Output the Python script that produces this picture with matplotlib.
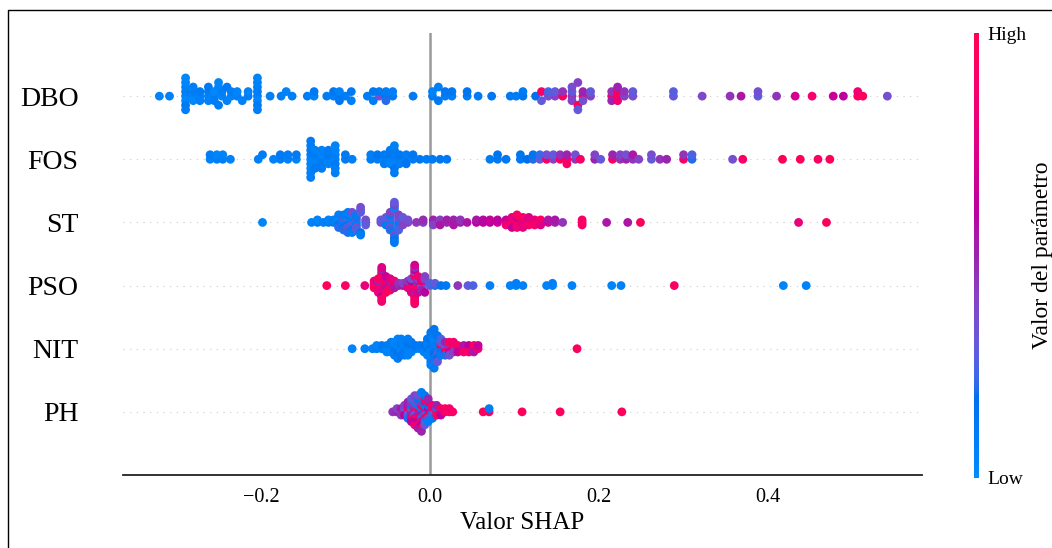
import numpy as np
import matplotlib
matplotlib.use("Agg")
import matplotlib.pyplot as plt
from matplotlib.colors import LinearSegmentedColormap
from matplotlib.cm import ScalarMappable
from matplotlib.lines import Line2D

plt.rcParams["font.family"] = ["Liberation Serif", "DejaVu Serif"]

features = ["DBO", "FOS", "ST", "PSO", "NIT", "PH"]

# every entry is one pile of dots: its SHAP value and the (0-1 scaled)
# feature values of the dots stacked there
dbo_x = [-0.320, -0.308, -0.289, -0.280, -0.272, -0.262, -0.255, -0.250, -0.246, -0.240,
         -0.235, -0.228, -0.222, -0.215, -0.204, -0.189, -0.176, -0.170, -0.163, -0.145,
         -0.137, -0.122, -0.114, -0.107, -0.100, -0.093, -0.074, -0.067, -0.060, -0.052,
         -0.044, -0.020, 0.003, 0.010, 0.018, 0.026, 0.044, 0.057, 0.073, 0.095,
         0.102, 0.110, 0.125, 0.132, 0.140, 0.148, 0.157, 0.168, 0.175, 0.181,
         0.190, 0.215, 0.222, 0.230, 0.240, 0.288, 0.322, 0.355, 0.368, 0.388,
         0.410, 0.432, 0.452, 0.477, 0.489, 0.506, 0.512, 0.541]
dbo_v = [[0.05], [0.08], [0.04, 0.1, 0.02, 0.07, 0.12, 0.05, 0.09, 0.03], [0.06, 0.1, 0.03, 0.08],
         [0.05, 0.11, 0.07], [0.04, 0.09, 0.06, 0.12], [0.08, 0.03, 0.1], [0.06, 0.1, 0.04],
         [0.05, 0.09], [0.07, 0.12],
         [0.06, 0.1], [0.08, 0.05], [0.07], [0.09, 0.06], [0.05, 0.1, 0.03, 0.08, 0.12, 0.06, 0.09, 0.04],
         [0.08], [0.1], [0.06], [0.09], [0.1],
         [0.07, 0.12], [0.1], [0.08, 0.13], [0.11, 0.06, 0.14], [0.1],
         [0.12, 0.08], [0.1], [0.13, 0.09], [0.35, 0.12], [0.15, 0.1, 0.2],
         [0.12, 0.08], [0.12], [0.1, 0.06], [0.12, 0.08], [0.1, 0.14],
         [0.09, 0.13], [0.1, 0.15], [0.12], [0.14], [0.12],
         [0.1], [0.15, 0.12], [0.18], [0.9, 0.3], [0.35, 0.25],
         [0.4, 0.3], [0.92, 0.45], [0.45, 0.3, 0.4, 0.35], [0.95, 0.4, 0.3], [0.9, 0.5, 0.35],
         [0.4, 0.3], [0.92, 0.45, 0.5], [0.95, 0.9, 0.85, 0.5], [0.4, 0.45], [0.35, 0.3],
         [0.3, 0.28], [0.38], [0.45], [0.55], [0.3, 0.35],
         [0.45], [0.7], [0.88], [0.65], [0.6], [0.92, 0.85], [0.95], [0.35]]

fos_x = [-0.260, -0.252, -0.245, -0.236, -0.203, -0.198, -0.185, -0.177, -0.168, -0.158,
         -0.141, -0.136, -0.128, -0.120, -0.112, -0.100, -0.092, -0.070, -0.062, -0.054,
         -0.047, -0.042, -0.036, -0.028, -0.020, -0.012, -0.004, 0.003, 0.012, 0.020,
         0.071, 0.080, 0.090, 0.107, 0.115, 0.122, 0.130, 0.138, 0.146, 0.154,
         0.162, 0.172, 0.178, 0.195, 0.202, 0.216, 0.225, 0.232, 0.240, 0.247,
         0.262, 0.272, 0.280, 0.300, 0.310, 0.358, 0.370, 0.417, 0.438, 0.459, 0.473]
fos_v = [[0.05, 0.1], [0.08, 0.04], [0.1, 0.06], [0.07], [0.08], [0.1], [0.06], [0.09, 0.12],
         [0.07, 0.1], [0.05, 0.11],
         [0.04, 0.1, 0.07, 0.12, 0.03, 0.09, 0.06, 0.11, 0.08], [0.06, 0.1, 0.04, 0.08, 0.12],
         [0.09, 0.05, 0.11, 0.07, 0.1], [0.08, 0.12, 0.06, 0.1], [0.05, 0.09, 0.12, 0.07, 0.1, 0.04, 0.08],
         [0.1, 0.13], [0.09], [0.11, 0.08], [0.1, 0.14], [0.07, 0.12, 0.1],
         [0.09, 0.13, 0.06, 0.11], [0.08, 0.12, 0.05, 0.1, 0.14, 0.07, 0.11], [0.1, 0.13, 0.08],
         [0.12, 0.09, 0.14], [0.1, 0.13], [0.12], [0.1], [0.11], [0.13], [0.12],
         [0.1], [0.12, 0.15], [0.14], [0.12, 0.15], [0.18], [0.2, 0.15], [0.3, 0.22], [0.9, 0.35],
         [0.4, 0.3], [0.92, 0.45],
         [0.95, 0.5, 0.9], [0.45, 0.35], [0.9], [0.5, 0.4], [0.3], [0.92, 0.5], [0.45, 0.4],
         [0.5, 0.35], [0.45, 0.55], [0.4],
         [0.3, 0.35], [0.45], [0.5], [0.9, 0.45], [0.2, 0.25], [0.35], [0.92], [0.95], [0.95],
         [0.92], [0.95]]

st_x = [-0.198, -0.140, -0.133, -0.126, -0.120, -0.114, -0.108, -0.102, -0.097, -0.092,
        -0.087, -0.082, -0.076, -0.058, -0.052, -0.047, -0.042, -0.037, -0.032, -0.026,
        -0.016, -0.008, 0.004, 0.012, 0.020, 0.028, 0.036, 0.044, 0.055, 0.063,
        0.071, 0.080, 0.090, 0.097, 0.103, 0.110, 0.117, 0.124, 0.131, 0.140,
        0.148, 0.157, 0.180, 0.209, 0.234, 0.249, 0.436, 0.469]
st_v = [[0.05], [0.06], [0.1, 0.05], [0.08], [0.1, 0.06], [0.12, 0.08], [0.15, 0.1, 0.2, 0.08],
        [0.12, 0.25, 0.08, 0.3, 0.15, 0.1, 0.2], [0.1, 0.3, 0.15, 0.05, 0.25, 0.12, 0.35, 0.08, 0.2],
        [0.2, 0.08, 0.3, 0.12, 0.25, 0.05, 0.15, 0.35, 0.1],
        [0.12, 0.3, 0.08, 0.2, 0.35, 0.1, 0.25], [0.3, 0.15, 0.25, 0.1, 0.35], [0.25, 0.35, 0.3],
        [0.35, 0.3], [0.2, 0.35, 0.1, 0.3], [0.15, 0.3, 0.08, 0.25, 0.35, 0.12, 0.2, 0.4],
        [0.1, 0.25, 0.35, 0.05, 0.2, 0.4, 0.15, 0.3, 0.12], [0.2, 0.35, 0.12, 0.3, 0.1, 0.4, 0.25],
        [0.35, 0.2, 0.4, 0.3], [0.4, 0.35],
        [0.45], [0.42, 0.48], [0.45, 0.5, 0.4], [0.5, 0.42, 0.55], [0.48, 0.52], [0.45, 0.5, 0.55],
        [0.5, 0.45], [0.55], [0.6, 0.55], [0.62, 0.58],
        [0.6, 0.65], [0.68, 0.62], [0.75, 0.65, 0.85], [0.9, 0.7, 0.95, 0.8, 0.65],
        [0.95, 0.75, 0.9, 0.65, 0.85, 0.92], [0.85, 0.95, 0.7, 0.9, 0.8], [0.92, 0.7, 0.88, 0.75],
        [0.95, 0.8, 0.9], [0.85, 0.92, 0.75], [0.7, 0.55],
        [0.5, 0.55], [0.45], [0.95, 0.9, 0.92], [0.55], [0.55], [0.95], [0.8], [0.95]]

pso_x = [-0.122, -0.100, -0.077, -0.066, -0.061, -0.057, -0.052, -0.047, -0.042, -0.037,
         -0.032, -0.026, -0.022, -0.018, -0.014, -0.010, -0.006, 0.000, 0.006, 0.013,
         0.019, 0.033, 0.045, 0.051, 0.071, 0.095, 0.102, 0.110, 0.138, 0.145,
         0.168, 0.215, 0.226, 0.289, 0.418, 0.445]
pso_v = [[0.95], [0.92], [0.8], [0.9, 0.85, 0.95, 0.8], [0.95, 0.75, 0.9, 0.5, 0.85, 0.92, 0.8],
         [0.9, 0.8, 0.95, 0.6, 0.85, 0.92, 0.5, 0.88, 0.75], [0.85, 0.95, 0.7, 0.9, 0.55, 0.8, 0.92, 0.65],
         [0.9, 0.6, 0.85, 0.5, 0.95, 0.75], [0.7, 0.9, 0.55, 0.85], [0.5, 0.45],
         [0.55, 0.4], [0.9, 0.5, 0.8, 0.45], [0.85, 0.4, 0.95, 0.6, 0.9, 0.35, 0.75],
         [0.9, 0.5, 0.85, 0.95, 0.4, 0.8, 0.6, 0.92, 0.45, 0.88, 0.7],
         [0.8, 0.35, 0.9, 0.55, 0.95, 0.4, 0.7, 0.85], [0.45, 0.9, 0.3, 0.8, 0.5], [0.35, 0.6, 0.4],
         [0.3, 0.25], [0.2, 0.3], [0.15],
         [0.12], [0.45], [0.3], [0.25], [0.08], [0.06], [0.05, 0.08], [0.07], [0.06], [0.05, 0.08],
         [0.06], [0.05], [0.07], [0.92], [0.05], [0.06]]

nit_x = [-0.092, -0.077, -0.068, -0.063, -0.057, -0.051, -0.046, -0.042, -0.038, -0.034,
         -0.030, -0.026, -0.022, -0.017, -0.012, -0.007, -0.003, 0.001, 0.005, 0.009,
         0.013, 0.018, 0.023, 0.028, 0.033, 0.040, 0.046, 0.052, 0.057, 0.174]
nit_v = [[0.05], [0.08], [0.06], [0.1, 0.05], [0.08, 0.12], [0.06, 0.1, 0.04], [0.08, 0.12, 0.05, 0.1],
         [0.06, 0.1, 0.14, 0.04, 0.09], [0.1, 0.05, 0.12, 0.08, 0.15, 0.06, 0.11],
         [0.07, 0.12, 0.04, 0.1, 0.14, 0.08],
         [0.1, 0.06, 0.13, 0.08, 0.12], [0.05, 0.11, 0.08, 0.14, 0.06, 0.1], [0.09, 0.13, 0.07, 0.11],
         [0.1, 0.14], [0.08, 0.12], [0.1, 0.15, 0.07], [0.12, 0.08, 0.15, 0.1, 0.06, 0.13],
         [0.1, 0.14, 0.06, 0.12, 0.08, 0.16, 0.05, 0.11, 0.09, 0.13, 0.07],
         [0.12, 0.08, 0.15, 0.1, 0.18, 0.06, 0.13, 0.09, 0.2, 0.11, 0.07, 0.14, 0.1],
         [0.15, 0.1, 0.2, 0.12, 0.25, 0.08, 0.18, 0.14, 0.3],
         [0.2, 0.9, 0.15, 0.35, 0.1, 0.25], [0.85, 0.3, 0.95, 0.5, 0.2], [0.9, 0.45, 0.7, 0.95, 0.35],
         [0.6, 0.92, 0.4, 0.85], [0.5, 0.9, 0.65], [0.75, 0.55, 0.9], [0.9, 0.6, 0.85],
         [0.7, 0.95, 0.55], [0.85, 0.65], [0.95]]

ph_x = [-0.044, -0.039, -0.034, -0.030, -0.026, -0.022, -0.018, -0.014, -0.010, -0.006,
        -0.002, 0.003, 0.008, 0.013, 0.018, 0.023, 0.027, 0.063, 0.070, 0.109, 0.154, 0.227]
ph_v = [[0.45], [0.5, 0.4], [0.35, 0.55, 0.45], [0.5, 0.3, 0.6, 0.4], [0.4, 0.85, 0.3, 0.55, 0.2, 0.5],
        [0.9, 0.35, 0.5, 0.15, 0.8, 0.45, 0.6, 0.3], [0.5, 0.9, 0.25, 0.45, 0.95, 0.1, 0.6, 0.35, 0.85, 0.4],
        [0.3, 0.85, 0.5, 0.1, 0.9, 0.4, 0.6, 0.15, 0.95, 0.35, 0.55],
        [0.9, 0.1, 0.5, 0.95, 0.2, 0.45, 0.8, 0.12, 0.6, 0.35, 0.9, 0.08, 0.5],
        [0.15, 0.9, 0.4, 0.1, 0.85, 0.5, 0.2, 0.95, 0.3, 0.12],
        [0.1, 0.6, 0.9, 0.15, 0.4, 0.85, 0.08, 0.5], [0.12, 0.9, 0.3, 0.85, 0.1], [0.9, 0.2, 0.95, 0.5],
        [0.85, 0.95, 0.6], [0.9, 0.92], [0.95, 0.88], [0.9], [0.95], [0.92, 0.1], [0.95], [0.93], [0.95]]

rows = [(dbo_x, dbo_v), (fos_x, fos_v), (st_x, st_v), (pso_x, pso_v), (nit_x, nit_v), (ph_x, ph_v)]


def red_blue():
    # shap's blue -> red map, interpolated in LCH space
    steps = 100
    l = np.concatenate([np.linspace(54, 40, steps // 2), np.linspace(40, 54, steps // 2)])
    c = np.linspace(70, 90, steps)
    h = np.linspace(4.6588, 0.35470565 + 2 * np.pi, steps)
    a = c * np.cos(h)
    b = c * np.sin(h)
    fy = (l + 16) / 116
    fx = fy + a / 500
    fz = fy - b / 200

    def finv(t):
        return np.where(t > 6 / 29, t ** 3, 3 * (6 / 29) ** 2 * (t - 4 / 29))

    X = 0.95047 * finv(fx)
    Y = finv(fy)
    Z = 1.08883 * finv(fz)
    lin = np.stack([3.2406 * X - 1.5372 * Y - 0.4986 * Z,
                    -0.9689 * X + 1.8758 * Y + 0.0415 * Z,
                    0.0557 * X - 0.2040 * Y + 1.0570 * Z], axis=1)
    lin = np.clip(lin, 0, 1)
    rgb = np.where(lin <= 0.0031308, 12.92 * lin, 1.055 * lin ** (1 / 2.4) - 0.055)
    return LinearSegmentedColormap.from_list("red_blue", np.clip(rgb, 0, 1))


def swarm(shaps, nbins=100, row_height=0.4):
    # same piling rule as shap's beeswarm
    quant = np.round(nbins * (shaps - shaps.min()) / (shaps.max() - shaps.min() + 1e-8))
    inds = np.argsort(quant, kind="stable")
    ys = np.zeros(len(shaps))
    layer = 0
    last_bin = -1
    for ind in inds:
        if quant[ind] != last_bin:
            layer = 0
        ys[ind] = np.ceil(layer / 2) * ((layer % 2) * 2 - 1)
        layer += 1
        last_bin = quant[ind]
    ys *= 0.9 * (row_height / np.max(ys + 1))
    return ys


cmap = red_blue()
W, H = 1052, 548
fig = plt.figure(figsize=(W / 100, H / 100), dpi=100)
ax = fig.add_axes([123 / W, 1 - 475 / H, (922 - 123) / W, (475 - 33) / H])
cax = fig.add_axes([974 / W, 1 - 478 / H, 5 / W, (478 - 33) / H])

n = len(features)
for i, (xs, vs) in enumerate(rows):
    assert len(xs) == len(vs)
    pos = n - 1 - i
    shaps = np.repeat(xs, [len(v) for v in vs])
    vals = np.concatenate([np.array(v) for v in vs])
    ys = swarm(shaps)
    ax.axhline(pos, color="#cccccc", lw=0.8, dashes=(1, 5), zorder=-1)
    ax.scatter(shaps, pos + ys, c=vals, cmap=cmap, vmin=0, vmax=1, s=40,
               linewidths=0, zorder=3)

ax.axvline(0, color="#999999", lw=1.8, zorder=-1)
ax.set_xlim(-0.363, 0.582)
ax.set_ylim(-1, n)
ax.set_yticks(range(n))
ax.set_yticklabels(features[::-1], fontsize=20)
ax.set_xticks([-0.2, 0.0, 0.2, 0.4])
ax.tick_params(axis="y", length=0, pad=32)
ax.tick_params(axis="x", length=0, labelsize=14.5, pad=9)
ax.set_xlabel("Valor SHAP", fontsize=18, labelpad=4)
for side in ["top", "left", "right"]:
    ax.spines[side].set_visible(False)
ax.spines["bottom"].set_linewidth(1.3)
ax.spines["bottom"].set_color("#222222")

cb = fig.colorbar(ScalarMappable(cmap=cmap), cax=cax, ticks=[0, 1])
cb.set_ticklabels(["Low", "High"])
cb.ax.tick_params(labelsize=14, length=0, pad=6)
cb.outline.set_visible(False)
cb.set_label("Valor del parámetro", fontsize=17, labelpad=4)

# the screenshot border: only its left and top edges are inside the picture
fig.lines.append(Line2D([8 / W, 8 / W, 1], [0, 1 - 10 / H, 1 - 10 / H],
                        transform=fig.transFigure, color="black", lw=1))

fig.savefig("out.png", dpi=100)
